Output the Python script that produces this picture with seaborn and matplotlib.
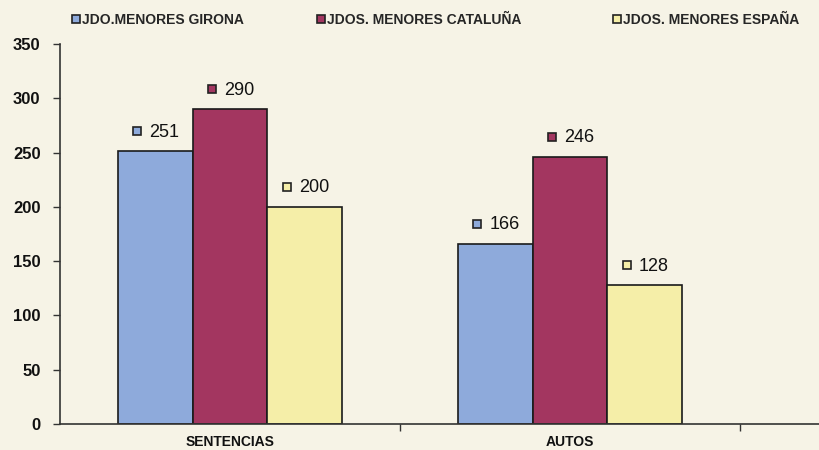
import seaborn as sns
import matplotlib.pyplot as plt
import pandas as pd
from matplotlib.lines import Line2D
from matplotlib.transforms import offset_copy

# datos
categorias = ["SENTENCIAS", "AUTOS"]
series = ["JDO.MENORES GIRONA", "JDOS. MENORES CATALUÑA", "JDOS. MENORES ESPAÑA"]
girona = [251, 166]
cataluna = [290, 246]
espana = [200, 128]
colores = ["#8eaadb", "#a33660", "#f5eea8"]
fondo = "#f6f3e6"

df = pd.DataFrame({
    "tipo": categorias * 3,
    "juzgado": [s for s in series for _ in categorias],
    "valor": girona + cataluna + espana,
})

sns.set_style("white")
plt.rcParams["font.family"] = ["Liberation Sans", "DejaVu Sans"]

fig = plt.figure(figsize=(8.19, 4.5), dpi=100, facecolor=fondo)
ax = fig.add_axes([60 / 819, 1 - 424 / 450, 1 - 60 / 819, (424 - 44) / 450])
ax.set_facecolor(fondo)

sns.barplot(data=df, x="tipo", y="valor", hue="juzgado", palette=colores,
            width=0.66, gap=0, edgecolor="#1a1a1a", linewidth=1.2,
            saturation=1, legend=False, ax=ax)

# etiquetas con cuadradito de color
for cont, col in zip(ax.containers, colores):
    for bar in cont:
        x = bar.get_x() + bar.get_width() / 2
        h = bar.get_height()
        tr = offset_copy(ax.transData, fig=fig, x=-18, y=20, units="dots")
        ax.plot([x], [h], marker="s", markersize=5.5, color=col,
                markeredgecolor="#222222", markeredgewidth=1.2,
                transform=tr, clip_on=False)
        ax.annotate(f"{h:.0f}", xy=(x, h), xytext=(-6, 19), textcoords="offset pixels",
                    ha="left", va="center", fontsize=13, color="#111111")

ax.set_ylim(0, 350)
ax.set_xlim(-0.5, 1.5 + 79 / 340)
ax.set_yticks(range(0, 351, 50))
ax.set_xlabel("")
ax.set_ylabel("")
ax.tick_params(axis="y", left=True, length=5, width=1, direction="out", pad=9,
               labelsize=12, color="#333333")
ax.tick_params(axis="x", which="major", bottom=False, length=0, pad=8, labelsize=10)
ax.set_xticks([0.5, 1.5], minor=True)
ax.tick_params(axis="x", which="minor", bottom=True, length=5, width=1,
               direction="out", color="#333333")
for lab in ax.get_yticklabels() + ax.get_xticklabels():
    lab.set_fontweight("bold")
    lab.set_color("#111111")

sns.despine(ax=ax)
for s in ["left", "bottom"]:
    ax.spines[s].set_color("#333333")
    ax.spines[s].set_linewidth(1.2)

# leyenda arriba, una entrada por juzgado
for nombre, c, xpos in zip(series, colores, [59, 304, 600]):
    h = Line2D([], [], marker="s", linestyle="none", markersize=5.5,
               markerfacecolor=c, markeredgecolor="#222222", markeredgewidth=1.2)
    fig.legend([h], [nombre], loc="upper left", bbox_to_anchor=(xpos / 819, 1),
               frameon=False, handlelength=0.6, handletextpad=0.15,
               prop={"weight": "bold", "size": 10})

fig.savefig("out.png", dpi=100, facecolor=fondo)
